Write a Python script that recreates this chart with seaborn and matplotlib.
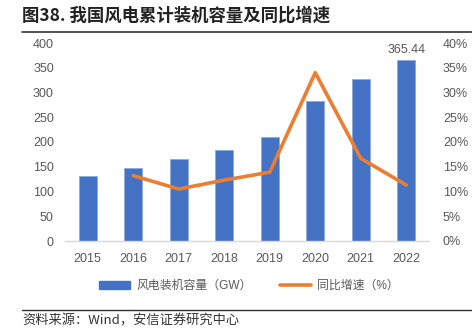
import matplotlib
matplotlib.use("Agg")
import matplotlib.pyplot as plt
import seaborn as sns
import numpy as np
import pandas as pd
from matplotlib.patches import Patch
from matplotlib.lines import Line2D

years = ["2015", "2016", "2017", "2018", "2019", "2020", "2021", "2022"]
capacity = [131, 148, 165, 184, 210, 282, 328, 365.44]
growth = [np.nan, 13.2, 10.5, 12.3, 13.9, 34.0, 16.7, 11.3]
left_ticks = [0, 50, 100, 150, 200, 250, 300, 350, 400]
right_ticks = [0, 5, 10, 15, 20, 25, 30, 35, 40]

title = "图38. 我国风电累计装机容量及同比增速"
label_bar = "风电装机容量（GW）"
label_line = "同比增速（%）"
source = "资料来源：Wind，安信证券研究中心"

sns.set_theme(style="white")
plt.rcParams['font.family'] = ['Liberation Sans', 'Noto Sans CJK SC', 'DejaVu Sans']

BAR = "#4472C4"
LINE = "#ED7D31"
TXT = "#595959"

df = pd.DataFrame({"year": years, "capacity": capacity, "growth": growth})

fig = plt.figure(figsize=(4.72, 3.34), dpi=100)
ax = fig.add_axes([65/472, 1-241/334, (429-65)/472, (241-43)/334])

sns.barplot(data=df, x="year", y="capacity", order=years, color=BAR,
            width=0.4, saturation=1, ax=ax, edgecolor="#8EA9DB", linewidth=0.6)
ax.set_ylim(0, 400)
ax.set_yticks(left_ticks)
ax.set_xlabel("")
ax.set_ylabel("")
for s in ["top", "right", "left"]:
    ax.spines[s].set_visible(False)
ax.spines["bottom"].set_color("#D9D9D9")
ax.spines["bottom"].set_linewidth(1)
ax.tick_params(axis="y", length=0, labelsize=9, colors=TXT, pad=8)
ax.tick_params(axis="x", length=0, labelsize=9, colors=TXT, pad=9)

# data label on last bar
last = ax.patches[len(years)-1]
ax.text(last.get_x() + last.get_width()/2, capacity[-1] + 8, f"{capacity[-1]:.2f}",
        ha="center", va="bottom", fontsize=9, color=TXT)

ax2 = ax.twinx()
sns.pointplot(x=years, y=growth, order=years, ax=ax2, color=LINE,
              markers="", linewidth=2.6, errorbar=None)
ax2.set_ylim(0, 40)
ax2.set_yticks(right_ticks)
ax2.set_yticklabels([f"{t}%" for t in right_ticks])
ax2.set_ylabel("")
for s in ["top", "right", "left", "bottom"]:
    ax2.spines[s].set_visible(False)
ax2.tick_params(axis="y", length=0, labelsize=9, colors=TXT, pad=10)

handles = [Patch(facecolor=BAR, edgecolor=BAR),
           Line2D([0], [0], color=LINE, linewidth=2.6)]
fig.legend(handles, [label_bar, label_line], loc="center",
           bbox_to_anchor=(249/472, 1-286/334), ncol=2, frameon=False,
           fontsize=8.6, labelcolor=TXT, handlelength=2.6, columnspacing=2.4,
           handletextpad=0.5, handleheight=0.6)

fig.text(22/472, 1-16/334, title, fontsize=12.5, fontweight="bold",
         color="#222222", va="center", ha="left",
         family=['Noto Sans CJK SC', 'DejaVu Sans'])
fig.add_artist(Line2D([22/472, 1], [1-32/334, 1-32/334], color="#333333", linewidth=1.2))
fig.add_artist(Line2D([22/472, 1], [1-310/334, 1-310/334], color="#333333", linewidth=1.0))
fig.text(22/472, 1-321/334, source, fontsize=9.5, style="italic", color="#333333",
         va="center", ha="left", family=['Noto Sans CJK SC', 'DejaVu Sans'])

fig.savefig("out.png", dpi=100)
